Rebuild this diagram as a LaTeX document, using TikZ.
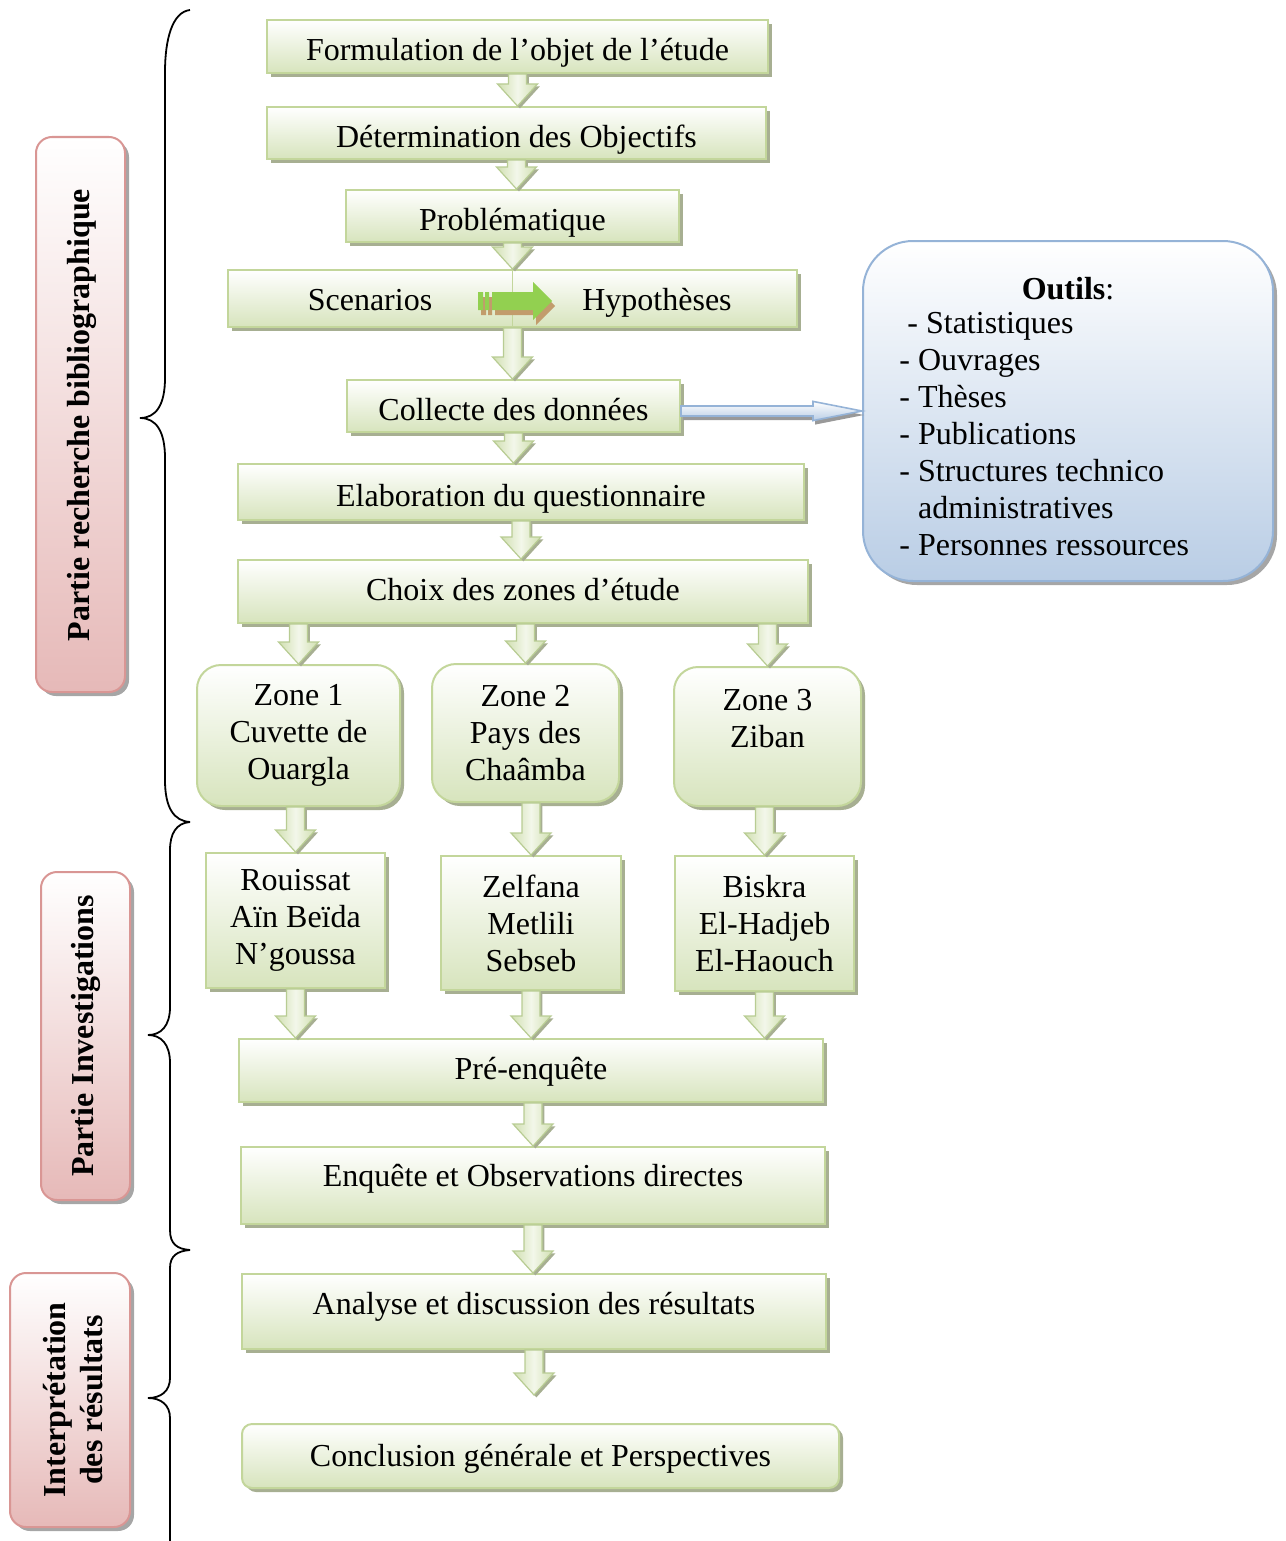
\documentclass[tikz,border=0pt]{standalone}
\usepackage{fontspec}
\setmainfont{Liberation Serif}
\usetikzlibrary{calc,shadows}
\definecolor{gborder}{HTML}{C3D69B}
\definecolor{gbottom}{HTML}{D7E4BD}
\definecolor{gshadow}{HTML}{A7AF92}
\definecolor{pborder}{HTML}{D99694}
\definecolor{pbottom}{HTML}{E6B9B8}
\definecolor{bborder}{HTML}{95B3D7}
\definecolor{bbottom}{HTML}{B9CDE5}
\definecolor{arrowg}{HTML}{D0DFB0}
\definecolor{arrowgl}{HTML}{F3F7EA}
\definecolor{arrowgb}{HTML}{B8CC93}
\definecolor{hgreen}{HTML}{92D050}
\definecolor{hbrown}{HTML}{C29C6C}
\tikzset{
 txt/.style={font=\fontsize{16}{18.5}\selectfont, inner sep=0pt},
 single/.style={text height=16.5pt, text depth=2pt},
 gbox/.style={txt, draw=gborder, line width=1pt, top color=white, bottom color=gbottom,
   drop shadow={shadow xshift=2pt, shadow yshift=-2pt, fill=gshadow, opacity=1}},
 zbox/.style={gbox, rounded corners=12pt},
 pbox/.style={draw=pborder, line width=1pt, top color=white, bottom color=pbottom, rounded corners=8pt,
   drop shadow={shadow xshift=2pt, shadow yshift=-2pt, fill=black!35, opacity=1}},
 obox/.style={draw=bborder, line width=1pt, top color=white, bottom color=bbottom, rounded corners=25pt,
   drop shadow={shadow xshift=2pt, shadow yshift=-2pt, fill=black!35, opacity=1}},
 garrowst/.style={draw=arrowgb, line width=0.6pt, left color=arrowg, right color=arrowg, middle color=arrowgl,
   drop shadow={shadow xshift=1.2pt, shadow yshift=-1.2pt, fill=gshadow, opacity=1}},
 barrowst/.style={draw=bborder, line width=0.8pt, top color=white, bottom color=bbottom,
   drop shadow={shadow xshift=1pt, shadow yshift=-2pt, fill=black!40, opacity=1}},
 bracest/.style={line width=0.9pt, black},
 lbl/.style={txt, font=\fontsize{16}{18.5}\selectfont\bfseries, rotate=90, align=center},
}
\newcommand\bx[6][]{\node[#1, minimum width={(#4-#3)*0.5pt}, minimum height={(#6-#5)*0.5pt}] (#2) at ({(#3+#4)/2},{(#5+#6)/2})}
\newcommand\garrow[2]{%
 \draw[garrowst] let \p1=(#1), \p2=(#2) in
  (\x1-4.5pt,\y1) -- (\x1+4.5pt,\y1) -- (\x1+4.5pt,\y2+11pt) -- (\x1+10pt,\y2+11pt) --
  (\x1,\y2) -- (\x1-10pt,\y2+11pt) -- (\x1-4.5pt,\y2+11pt) -- cycle;}
\begin{document}
\begin{tikzpicture}[x=0.5pt,y=-0.5pt]
\useasboundingbox (0,0) rectangle (1285,1541);

% braces
\draw[bracest] (190,10) .. controls (172,12) and (165,40) .. (165,72) -- (165,378)
  .. controls (165,405) and (156,418) .. (140,418) .. controls (156,418) and (165,431) .. (165,458)
  -- (165,780) .. controls (165,808) and (174,821) .. (190,822);
\draw[bracest] (190,822) .. controls (176,823) and (170,834) .. (170,850) -- (170,1007)
  .. controls (170,1026) and (161,1035) .. (148,1035) .. controls (161,1035) and (170,1044) .. (170,1063)
  -- (170,1230) .. controls (170,1244) and (177,1249) .. (190,1250);
\draw[bracest] (190,1250) .. controls (177,1251) and (170,1256) .. (170,1268) -- (170,1378)
  .. controls (170,1391) and (161,1398) .. (148,1398) .. controls (161,1398) and (170,1405) .. (170,1418)
  -- (170,1541);

% side labels
\bx[pbox]{lab1}{36}{125}{137}{692}{};
\node[lbl] (lab1t) at (82,415) {Partie recherche bibliographique};
\bx[pbox]{lab2}{41}{130}{872}{1200}{};
\node[lbl] (lab2t) at (86,1036) {Partie Investigations};
\bx[pbox]{lab3}{10}{130}{1273}{1527}{};
\node[lbl] (lab3t) at (73,1400) {Interprétation\\des résultats};

% main boxes
\bx[gbox,single]{b1}{267}{768}{20}{73}{Formulation de l’objet de l’étude};
\bx[gbox,single]{b2}{267}{766}{107}{159}{Détermination des Objectifs};
\bx[gbox,single]{b3}{346}{679}{190}{242}{Problématique};
\bx[gbox]{b4}{228}{797}{270}{327}{};
\node[txt,single] (scen) at (370,296) {Scenarios};
\node[txt,single] (hyp) at (657,296) {Hypothèses};
\bx[gbox,single]{b5}{347}{680}{380}{432}{Collecte des données};
\bx[gbox,single]{b6}{238}{804}{464}{520}{Elaboration du questionnaire};
\bx[gbox,single,text depth=8pt]{b7}{238}{808}{560}{623}{Choix des zones d’étude};

\bx[zbox,align=center]{z1}{197}{400}{665}{806}{Zone 1\\Cuvette de\\Ouargla};
\bx[zbox,align=center]{z2}{432}{619}{664}{802}{Zone 2\\Pays des\\Chaâmba};
\bx[zbox,align=center]{z3}{674}{861}{667}{806}{Zone 3\\Ziban\\\mbox{}};

\bx[gbox,align=center]{s1}{206}{385}{853}{988}{Rouissat\\Aïn Beïda\\N’goussa};
\bx[gbox,align=center]{s2}{441}{621}{856}{990}{Zelfana\\Metlili\\Sebseb};
\bx[gbox,align=center]{s3}{675}{854}{856}{991}{Biskra\\El-Hadjeb\\El-Haouch};

\bx[gbox,single,text depth=8pt]{pre}{239}{823}{1039}{1102}{Pré-enquête};
\bx[gbox,single,text depth=16pt]{enq}{241}{825}{1147}{1224}{Enquête et Observations directes};
\bx[gbox,single,text depth=14pt]{ana}{242}{826}{1274}{1349}{Analyse et discussion des résultats};
\bx[gbox,single,text depth=6pt,rounded corners=5pt]{concl}{242}{839}{1424}{1488}{Conclusion générale et Perspectives};

% outils
\bx[obox]{outils}{863}{1273}{241}{581}{};
\node[txt,single] (otitle) at (1068,285) {\textbf{Outils}:};
\node[txt, anchor=north west, align=left] (olist) at (899,312)
 {\hspace*{4pt}- Statistiques\\- Ouvrages\\- Thèses\\- Publications\\- Structures technico\\\phantom{- }administratives\\- Personnes ressources};

% line inside scenario box and horizontal arrow
\draw[gborder, line width=0.8pt] (b3.south |- b4.north) -- (b3.south |- b4.south);
\begin{scope}[shift={(3,5)}]
 \fill[hbrown] (478,292) rectangle (483,310) (485,292) rectangle (489,310);
 \fill[hbrown] (492,292) -- (533,292) -- (533,282) -- (552,301) -- (533,320) -- (533,310) -- (492,310) -- cycle;
\end{scope}
\fill[hgreen] (478,292) rectangle (483,310) (485,292) rectangle (489,310);
\fill[hgreen] (492,292) -- (533,292) -- (533,282) -- (552,301) -- (533,320) -- (533,310) -- (492,310) -- cycle;

% vertical block arrows
\garrow{b1.south}{b1.south |- b2.north}
\garrow{b2.south}{b2.south |- b3.north}
\garrow{b3.south}{b3.south |- b4.north}
\garrow{b3.south |- b4.south}{b3.south |- b5.north}
\garrow{b5.south}{b5.south |- b6.north}
\garrow{b6.south}{b6.south |- b7.north}
\garrow{b7.south -| z1.north}{z1.north}
\garrow{b7.south -| z2.north}{z2.north}
\garrow{b7.south -| z3.north}{z3.north}
\garrow{z1.south -| s1.north}{s1.north}
\garrow{z2.south -| s2.north}{s2.north}
\garrow{z3.south -| s3.north}{s3.north}
\garrow{s1.south}{s1.south |- pre.north}
\garrow{s2.south}{s2.south |- pre.north}
\garrow{s3.south}{s3.south |- pre.north}
\garrow{pre.south -| enq.north}{enq.north}
\garrow{enq.south}{enq.south |- ana.north}
\garrow{ana.south}{$(ana.south |- concl.north)+(0,-28)$}

% blue arrow
\draw[barrowst] let \p1=(b5.east |- outils.west), \p2=(outils.west) in
  (\x1,\y1+2.5pt) -- (\x2-24.5pt,\y1+2.5pt) -- (\x2-24.5pt,\y1+4.8pt) -- (\x2,\y1)
  -- (\x2-24.5pt,\y1-4.8pt) -- (\x2-24.5pt,\y1-2.5pt) -- (\x1,\y1-2.5pt) -- cycle;
\end{tikzpicture}
\end{document}
